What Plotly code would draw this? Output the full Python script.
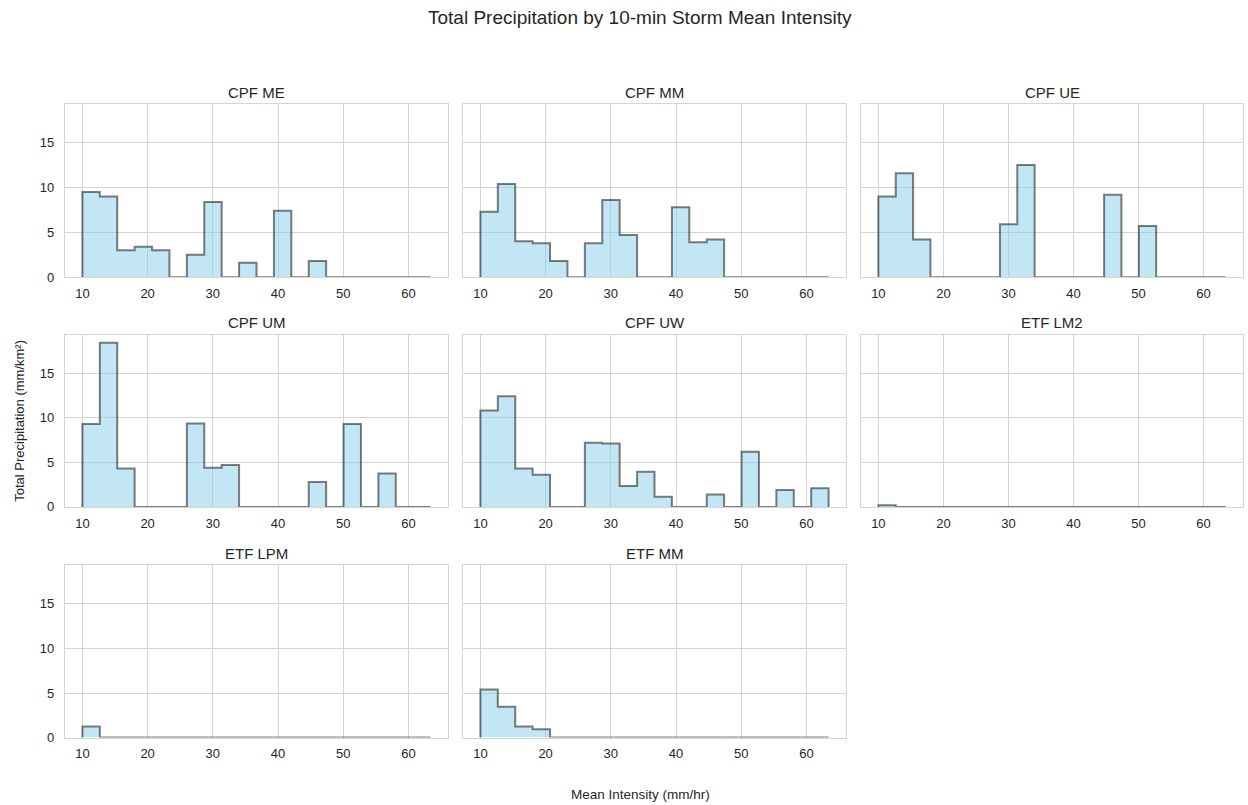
import numpy as np
import plotly.graph_objects as go

# ---- data ----
stations = ["CPF ME", "CPF MM", "CPF UE", "CPF UM", "CPF UW", "ETF LM2", "ETF LPM", "ETF MM"]
bin_min = 10.0
bin_max = 63.4
n_bins = 20

cpf_me = [9.5, 9.0, 3.0, 3.4, 3.0, 0, 2.5, 8.4, 0, 1.6, 0, 7.4, 0, 1.8, 0, 0, 0, 0, 0, 0]
cpf_mm = [7.3, 10.4, 4.0, 3.8, 1.8, 0, 3.8, 8.6, 4.7, 0, 0, 7.8, 3.9, 4.2, 0, 0, 0, 0, 0, 0]
cpf_ue = [9.0, 11.6, 4.2, 0, 0, 0, 0, 5.9, 12.5, 0, 0, 0, 0, 9.2, 0, 5.7, 0, 0, 0, 0]
cpf_um = [9.3, 18.4, 4.3, 0, 0, 0, 9.35, 4.4, 4.7, 0, 0, 0, 0, 2.8, 0, 9.3, 0, 3.75, 0, 0]
cpf_uw = [10.8, 12.4, 4.3, 3.6, 0, 0, 7.2, 7.1, 2.35, 3.95, 1.15, 0, 0, 1.4, 0, 6.2, 0, 1.9, 0, 2.1]
etf_lm2 = [0.2, 0, 0, 0, 0, 0, 0, 0, 0, 0, 0, 0, 0, 0, 0, 0, 0, 0, 0, 0]
etf_lpm = [1.25, 0, 0, 0, 0, 0, 0, 0, 0, 0, 0, 0, 0, 0, 0, 0, 0, 0, 0, 0]
etf_mm = [5.4, 3.45, 1.25, 0.95, 0, 0, 0, 0, 0, 0, 0, 0, 0, 0, 0, 0, 0, 0, 0, 0]
series = [cpf_me, cpf_mm, cpf_ue, cpf_um, cpf_uw, etf_lm2, etf_lpm, etf_mm]

x_ticks = [10, 20, 30, 40, 50, 60]
y_ticks = [0, 5, 10, 15]

# ---- layout geometry ----
W, H = 1248, 805
col_px = [(65, 448), (463, 846), (861, 1243)]
row_px = [(105, 280), (338, 512), (571, 745)]

edges = np.linspace(bin_min, bin_max, n_bins + 1)
pad = (bin_max - bin_min) * 0.05
x_range = [bin_min - pad, bin_max + pad]
y_max = max(max(s) for s in series) * 1.05

FONT = "Liberation Sans, Arial, sans-serif"
TXT = "#262626"
GRID = "#d5d5d5"

fig = go.Figure()
layout = dict(
    width=W, height=H, margin=dict(l=0, r=0, t=0, b=0),
    paper_bgcolor="white", plot_bgcolor="white", showlegend=False,
    font=dict(family=FONT, color=TXT, size=12),
)
annotations = []

for k, (name, vals) in enumerate(zip(stations, series)):
    r, c = divmod(k, 3)
    idx = "" if k == 0 else str(k + 1)
    xs = [edges[0]]
    ys = [0]
    for i, v in enumerate(vals):
        xs += [edges[i], edges[i + 1]]
        ys += [v, v]
    xs.append(edges[-1])
    ys.append(0)
    fig.add_trace(go.Scatter(
        x=xs, y=ys, mode="lines", fill="tozeroy",
        fillcolor="rgba(135,206,235,0.5)",
        line=dict(color="rgba(0,0,0,0.5)", width=2),
        xaxis="x" + idx, yaxis="y" + idx, hoverinfo="skip",
    ))
    x0, x1 = col_px[c]
    y0, y1 = row_px[r]
    layout["xaxis" + idx] = dict(
        domain=[x0 / W, x1 / W], range=x_range, anchor="y" + idx,
        tickvals=x_ticks, showgrid=True, gridcolor=GRID, gridwidth=1,
        showline=True, linecolor=GRID, linewidth=1.2, mirror=True,
        zeroline=False, ticks="outside", ticklen=4, tickcolor="rgba(0,0,0,0)",
        tickfont=dict(size=13, color=TXT),
    )
    layout["yaxis" + idx] = dict(
        domain=[1 - y1 / H, 1 - y0 / H], range=[0, y_max], anchor="x" + idx,
        tickvals=y_ticks, showticklabels=(c == 0), showgrid=True,
        gridcolor=GRID, gridwidth=1, showline=True, linecolor=GRID,
        linewidth=1.2, mirror=True, zeroline=False,
        ticks="outside", ticklen=7, tickcolor="rgba(0,0,0,0)",
        tickfont=dict(size=13, color=TXT),
    )
    annotations.append(dict(
        text=name, x=(x0 + x1) / 2 / W, y=1 - (y0 - 12) / H,
        xref="paper", yref="paper", showarrow=False,
        xanchor="center", yanchor="middle", font=dict(size=15, color=TXT),
    ))

annotations.append(dict(
    text="Total Precipitation by 10-min Storm Mean Intensity",
    x=640 / W, y=1 - 18 / H, xref="paper", yref="paper", showarrow=False,
    xanchor="center", yanchor="middle", font=dict(size=19, color=TXT),
))
annotations.append(dict(
    text="Mean Intensity (mm/hr)", x=640 / W, y=1 - 802 / H,
    xref="paper", yref="paper", showarrow=False,
    xanchor="center", yanchor="middle", font=dict(size=13.5, color=TXT),
))
annotations.append(dict(
    text="Total Precipitation (mm/km²)", x=20 / W, y=1 - 425 / H,
    xref="paper", yref="paper", showarrow=False, textangle=-90,
    xanchor="center", yanchor="middle", font=dict(size=13, color=TXT),
))
layout["annotations"] = annotations
fig.update_layout(**layout)
fig.write_html("out.html")
